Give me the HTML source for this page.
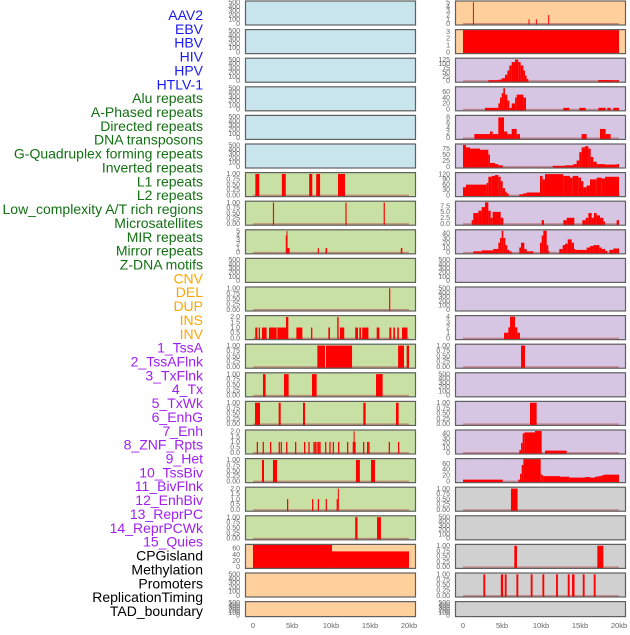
<!DOCTYPE html>
<html><head><meta charset="utf-8"><style>
html,body{margin:0;padding:0;background:#fff;}
body{width:630px;height:630px;overflow:hidden;font-family:"Liberation Sans",sans-serif;}
</style></head><body>
<svg id="chart" width="630" height="630" viewBox="0 0 630 630" xmlns="http://www.w3.org/2000/svg"></svg>
<script>
const labels=["AAV2","EBV","HBV","HIV","HPV","HTLV-1","Alu repeats","A-Phased repeats","Directed repeats","DNA transposons","G-Quadruplex forming repeats","Inverted repeats","L1 repeats","L2 repeats","Low_complexity A/T rich regions","Microsatellites","MIR repeats","Mirror repeats","Z-DNA motifs","CNV","DEL","DUP","INS","INV","1_TssA","2_TssAFlnk","3_TxFlnk","4_Tx","5_TxWk","6_EnhG","7_Enh","8_ZNF_Rpts","9_Het","10_TssBiv","11_BivFlnk","12_EnhBiv","13_ReprPC","14_ReprPCWk","15_Quies","CPGisland","Methylation","Promoters","ReplicationTiming","TAD_boundary"];
const labelGroups=[6,13,5,15,5];
const groupColors=["#1a1aee","#137013","#ffa500","#a020f0","#000000"];
const panelColors={virus:"#c8e4ec",repeat:"#c8e0a4",sv:"#ffcf9c",chrom:"#d7c6e3",other:"#d0d0d0"};
const xTicks=[0,5,10,15,20];
const xTickLabels=["0","5kb","10kb","15kb","20kb"];
const T500=[0,100,200,300,400,500], T1=[0,0.25,0.5,0.75,1];
function sp(c,v,w){return c.map(x=>[x-(w||0.16)/2,x+(w||0.16)/2,v]);}
const leftPanels=[
 ["virus",T500,520,[]],["virus",T500,520,[]],["virus",T500,520,[]],["virus",T500,520,[]],["virus",T500,520,[]],["virus",T500,520,[]],
 ["repeat",T1,1.04,[[0.3,0.8,1],[3.7,4.2,1],[7.2,7.6,1],[8.1,8.6,1],[10.9,11.8,1]]],
 ["repeat",T1,1.04,[[2.55,2.7,1],[11.85,12.0,1],[16.75,16.9,1]]],
 ["repeat",[0,1,2,3,4,5],5.2,[[4.2,4.3,4],[4.3,4.4,5],[4.4,4.7,1],[8.3,8.45,1],[9.3,9.5,1],[18.95,19.15,1]]],
 ["repeat",T500,520,[]],
 ["repeat",T1,1.04,[[17.45,17.6,1]]],
 ["repeat",[0,0.5,1,1.5,2],2.08,[[0.29,0.56,1],[0.73,0.9,1],[1.15,1.75,1],[2.05,3.03,1],[3.12,4.23,1],[4.23,4.53,2],[5.56,6.33,1],[7.44,7.61,1],[9.66,9.87,1],[10.8,10.98,2],[11.15,11.7,1],[13.1,13.46,1],[13.63,13.85,1],[14.0,14.8,1],[15.86,16.2,1],[17.48,17.73,1],[17.99,18.2,1],[18.5,18.7,1],[19.1,19.8,1]]],
 ["repeat",T1,1.04,[[8.25,9.24,1],[9.36,12.7,1],[18.6,19.36,1],[19.7,20,1]]],
 ["repeat",T1,1.04,[[1.28,1.62,1],[3.97,4.57,1],[7.56,8.16,1],[15.77,16.62,1]]],
 ["repeat",T1,1.04,[[0.26,0.9,1],[3.29,3.55,1],[6.41,6.67,1],[14.14,14.44,1],[18.33,18.67,1]]],
 ["repeat",[0,0.5,1,1.5,2],2.08,sp([0.56,1.32,2.26,3.37,3.63,4.32,5.47,6.62,7.18,7.82,7.99,8.21,8.42,8.59,9.32,9.87,10.3,10.98,12.14,12.86,13.08,14.19,14.7,14.87,17.48,18.67],1).concat(sp([12.95],2,0.1))],
 ["repeat",T1,1.04,[[1.15,1.41,1],[2.56,3.08,1],[13.2,13.7,1],[15.13,15.64,1]]],
 ["repeat",[0,0.5,1,1.5,2],2.08,sp([4.44,7.65,8.38,9.4,10.8],1).concat(sp([10.94],2,0.12))],
 ["repeat",T1,1.04,[[13.1,13.4,1],[15.9,16.4,1]]],
 ["sv",[0,20,40,60],71,[[0,10.13,72],[10.13,20,50]]],
 ["sv",T500,520,[]],
 ["sv",T500,520,[]]
];
const rightPanels=[
 ["sv",[0,1,2,3,4,5],5.2,sp([1.33],5,0.12).concat(sp([8.46,9.4],1,0.12),sp([10.98],2,0.12))],
 ["sv",[0,1,2,3],3.2,[[0,20,3.3]]],
 ["chrom",[0,25,50,75,100,125],130,[[3.25,4.53,3],[4.53,4.96,6],[4.96,5.38,15],[5.38,5.68,35],[5.68,5.94,60],[5.94,6.24,90],[6.24,6.67,110],[6.67,7.09,125],[7.09,7.39,110],[7.39,7.74,90],[7.74,7.95,60],[7.95,8.16,30],[8.16,8.38,10],[17.35,18.85,4],[18.85,20,3]]],
 ["chrom",[0,20,40,60],75,[[2.82,4.53,5],[4.53,4.74,20],[4.74,4.96,40],[4.96,5.17,55],[5.17,5.38,72],[5.38,5.68,50],[5.68,5.94,30],[5.94,6.24,5],[6.24,6.67,20],[6.67,6.88,40],[6.88,7.74,50],[7.74,8.08,40],[12.86,13.63,5],[14.91,15.73,5],[17.35,18.29,5],[18.5,18.93,5],[19.27,20,5]]],
 ["chrom",[0,2,4,6,8],8.6,[[1.45,3.46,1.5],[3.46,3.8,2.5],[3.8,4.53,1.5],[4.53,5.26,8],[5.26,5.68,2.5],[5.68,6.24,1.5],[6.24,6.88,3.5],[6.88,7.31,1.5],[15.21,15.85,1.5],[17.56,18.29,3.5],[18.29,18.93,1.5]]],
 ["chrom",[0,25,50,75],92,[[0,0.38,90],[0.38,0.9,80],[0.9,2.18,75],[2.18,3.25,70],[3.25,3.46,50],[3.46,4.1,15],[4.1,4.53,10],[4.53,5.09,5],[11.5,13.08,3],[13.08,14.15,5],[14.15,14.57,10],[14.57,14.91,25],[14.91,15.21,60],[15.21,15.64,80],[15.64,16.07,85],[16.07,16.37,75],[16.37,16.71,40],[16.71,17.14,20],[17.14,18.2,10],[18.2,19.7,8],[19.7,20,10]]],
 ["chrom",[0,30,60,90,120],126,[[0,0.38,45],[0.38,3.03,60],[3.03,3.25,70],[3.25,3.68,105],[3.68,4.1,110],[4.1,4.53,115],[4.53,4.83,105],[4.83,5.09,80],[5.09,5.38,40],[5.38,5.6,20],[5.6,5.85,10],[7.22,7.74,5],[7.74,8.16,10],[8.16,9.87,15],[9.87,10.21,110],[10.21,10.51,90],[10.51,12.86,120],[12.86,13.72,110],[13.72,14.06,100],[14.06,14.79,110],[14.79,15.13,100],[15.13,15.43,80],[15.43,15.85,45],[15.85,16.28,55],[16.28,17.14,90],[17.14,17.78,100],[17.78,18.21,95],[18.21,20,105]]],
 ["chrom",[0,2.5,5,7.5],9.3,[[1.11,1.32,1.5],[1.32,1.97,4.5],[1.97,2.39,5.5],[2.39,2.82,7],[2.82,3.25,9],[3.25,3.55,5.5],[3.55,3.8,2.5],[3.8,4.83,5],[4.83,5.17,2.5],[10.09,10.38,1.5],[12.86,13.29,1.5],[13.29,14.27,2.5],[15.3,15.73,1.5],[15.73,16.07,2.5],[16.07,16.5,4.5],[16.5,16.79,2.5],[16.79,17.14,4.5],[17.14,17.56,3.5],[17.56,17.99,2.5],[17.99,18.21,1],[19.7,20,1.5]]],
 ["chrom",[0,10,20,30,40],46,[[1.32,2.39,2],[2.39,3.89,4],[3.89,4.53,7],[4.53,4.74,20],[4.74,4.96,30],[4.96,5.17,45],[5.17,5.43,30],[5.43,5.68,15],[5.68,5.94,5],[5.94,6.24,2],[7.22,7.44,10],[7.44,7.86,20],[7.86,8.16,7],[8.16,9.02,2],[9.87,10.09,20],[10.09,10.3,35],[10.3,10.73,45],[10.73,10.94,15],[10.94,11.07,3],[12.35,12.78,7],[12.78,13.08,15],[13.08,13.42,18],[13.42,13.93,27],[13.93,14.23,20],[14.23,14.4,7],[14.4,15.85,5],[15.85,16.28,10],[16.28,16.71,13],[16.71,17.48,15],[17.48,17.78,10],[17.78,18.21,7],[18.21,18.5,3],[18.76,19.27,5],[19.27,20,8]]],
 ["chrom",T500,520,[]],
 ["chrom",T500,520,[]],
 ["chrom",[0,1,2,3,4],4.1,[[5.26,5.81,1],[5.81,6.03,2],[6.03,6.67,4],[6.67,6.97,2],[6.97,7.31,1]]],
 ["chrom",T1,1.04,[[7.44,7.95,1]]],
 ["chrom",T500,520,[]],
 ["chrom",T1,1.04,[[8.59,9.44,1]]],
 ["chrom",[0,10,20,30,40],46,[[7.22,7.44,5],[7.44,7.65,20],[7.65,7.86,40],[7.86,9.23,42],[9.23,10.09,45],[10.51,13.29,4]]],
 ["chrom",[0,20,40,60],75,[[0,5.09,5],[7.09,7.31,5],[7.31,7.52,25],[7.52,7.74,55],[7.74,9.96,75],[9.96,10.09,25],[10.09,10.3,20],[10.3,12.44,17],[12.44,13.63,15],[13.63,15.64,12],[15.64,16.28,14],[16.28,16.92,12],[16.92,17.35,15],[17.35,17.78,17],[17.78,18.08,20],[18.08,20,22]]],
 ["other",T1,1.04,[[6.15,7.0,1]]],
 ["other",T500,520,[]],
 ["other",T1,1.04,[[6.58,6.92,1],[17.22,17.99,1]]],
 ["other",T1,1.04,sp([2.73,5.47,6.97,8.8,10.3,12.05,13.55,15.47,16.88],1,0.24).concat([[4.85,5.15,1],[13.98,14.3,1]])],
 ["other",T500,520,[]]
];
const NS="http://www.w3.org/2000/svg";
const svg=document.getElementById("chart");
function mk(tag,attrs,parent){const e=document.createElementNS(NS,tag);for(const k in attrs)e.setAttribute(k,attrs[k]);(parent||svg).appendChild(e);return e;}
let li=0;
labelGroups.forEach((n,g)=>{for(let j=0;j<n;j++){const t=mk("text",{x:203,y:15+li*13.86+5,"text-anchor":"end","font-size":"14",fill:groupColors[g]});


t.textContent=labels[li];li++;}});
function fmt(v,ticks){if(ticks===T1)return v.toFixed(2);
 const dec=ticks.some(t=>t!==Math.round(t))?1:0;return v.toFixed(dec);}
function drawCol(panels,x0,x1,xZero,col){
 const pxPerKb=7.8;
 const xs=kb=>xZero+kb*pxPerKb;
 panels.forEach((p,i)=>{
  const [type,ticks,yTop,segs]=p;
  const top=28.6*i+0.5, h=(i===21)?16:25, bottom=top+h;
  const g=mk("g",{});
  
  
  const bg=mk("rect",{x:x0,y:top,width:x1-x0,height:h,fill:panelColors[type]},g);
  
  
  const y0=bottom-2, ys=v=>y0-(v/yTop)*(h-3);
  const cid="clip-"+col+i;
  const cp=mk("clipPath",{id:cid},g);mk("rect",{x:x0,y:top,width:x1-x0,height:h},cp);
  const dg=mk("g",{"clip-path":"url(#"+cid+")"},g);
  if(segs.length){
   const bl=mk("rect",{x:xs(0),y:y0-0.5,width:xs(20)-xs(0),height:1.5,fill:"#b85a5a",opacity:"0.6"},dg);
   
   
  }
  segs.forEach(s=>{
   const yy=ys(s[2]);
   const r=mk("rect",{x:xs(s[0]),y:yy,width:Math.max(1,xs(s[1])-xs(s[0])),height:bottom-yy,fill:"#ff0000"},dg);
   
   
  });
  const bd=mk("rect",{x:x0+0.5,y:top+0.5,width:x1-x0-1,height:h-1,fill:"none",stroke:"#606060","stroke-width":"1.2"},g);
  
  
  ticks.forEach(tv=>{
   const tt=mk("text",{x:x0-5,y:ys(tv)+2.3,"text-anchor":"end","font-size":"7",fill:"#666"},g);
   
   
   tt.textContent=fmt(tv,ticks);
  });
 });
 xTicks.forEach((k,j)=>{
  const t=mk("text",{x:xs(k),y:628,"text-anchor":"middle","font-size":"7.5",fill:"#666"});
  
  
  t.textContent=xTickLabels[j];
 });
}
drawCol(leftPanels,245,416,253,"left");
drawCol(rightPanels,455,626,463,"right");
</script>
</body></html>
